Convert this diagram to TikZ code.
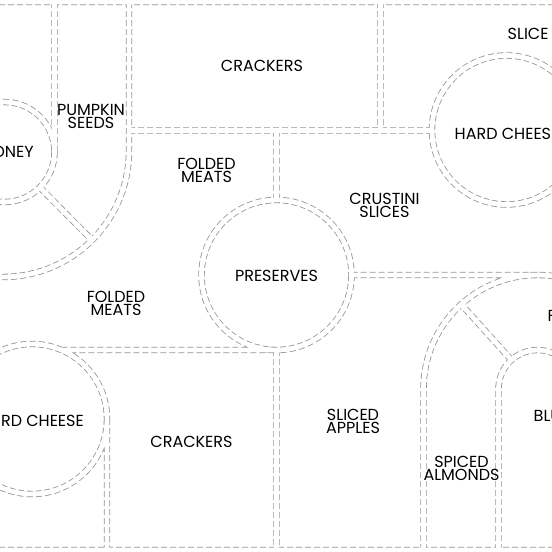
\documentclass[tikz,border=0pt]{standalone}
\usepackage{fontspec}
\setmainfont{Poppins}
\usetikzlibrary{calc}
\tikzset{
  cutline/.style={draw=black!42, line width=6.4pt, dash pattern=on 6pt off 3pt,
    postaction={draw=white, line width=4.8pt, solid}},
  tray/.style={font=\fontsize{16}{13}\selectfont, align=center, inner sep=0pt},
}
\begin{document}
\begin{tikzpicture}[x=1pt,y=-1pt]
  \useasboundingbox (0,0) rectangle (552,552);
  \clip (0,0) rectangle (552,552);

  \coordinate (honey)   at (4.5,152);
  \coordinate (bowl)    at (3,151);
  \coordinate (hardtop) at (506.5,130);
  \coordinate (pres)    at (276.5,275);
  \coordinate (hardbot) at (32,419);
  \coordinate (arch)    at (537.5,389);

  \path[cutline]
    (-10,2) -- (562,2)
    (-10,550) -- (562,550)
    (54.5,2) -- (54.5,152)
    (129,2) -- (129,151) arc[start angle=0, end angle=100, radius=126]
    (honey) circle[radius=50]
    ($(honey)+(45:50)$) -- ($(bowl)+(45:126)$)
    (380.5,2) -- (380.5,130.5)
    (129,130.5) -- (432,130.5)
    (hardtop) circle[radius=74.5]
    (276.5,130.5) -- (276.5,200)
    (pres) circle[radius=75]
    (276.5,350) -- (276.5,550)
    (351.5,275) -- (537.5,275)
    (61.4,350) -- (276.5,350)
    (hardbot) circle[radius=75]
    (107,419) -- (107,550)
    (423.5,550) -- (423.5,389) arc[start angle=180, end angle=300, radius=114]
    (498.5,550) -- (498.5,389) arc[start angle=180, end angle=330, radius=39]
    ($(arch)+(228:39)$) -- ($(arch)+(228:114)$);

  \begin{scope}[every node/.style={tray}]
    \node (crackersA) at (262,66)    {CRACKERS};
    \node (pumpkin)   at (91,116.5)  {PUMPKIN\\SEEDS};
    \node[anchor=east] (honeytxt) at (34,152) {ONEY};
    \node[anchor=west] (hardA) at (454.5,134) {HARD CHEES};
    \node[anchor=west] (sliceA) at (507.5,34) {SLICE};
    \node (meatsA)    at (206.5,170.5) {FOLDED\\MEATS};
    \node (crustini)  at (384.5,205.5) {CRUSTINI\\SLICES};
    \node (preserves) at (276.5,275.5) {PRESERVES};
    \node (meatsB)    at (116,303)   {FOLDED\\MEATS};
    \node[anchor=east] (hardB) at (84,421) {RD CHEESE};
    \node (crackersB) at (191.5,442) {CRACKERS};
    \node (apples)    at (353,421.5) {SLICED\\APPLES};
    \node (almonds)   at (461.5,468.5) {SPICED\\ALMONDS};
    \node[anchor=west] (blue) at (533.5,415.5) {BLU};
    \node[anchor=west] (fruit) at (547.5,316) {F};
  \end{scope}
\end{tikzpicture}
\end{document}
